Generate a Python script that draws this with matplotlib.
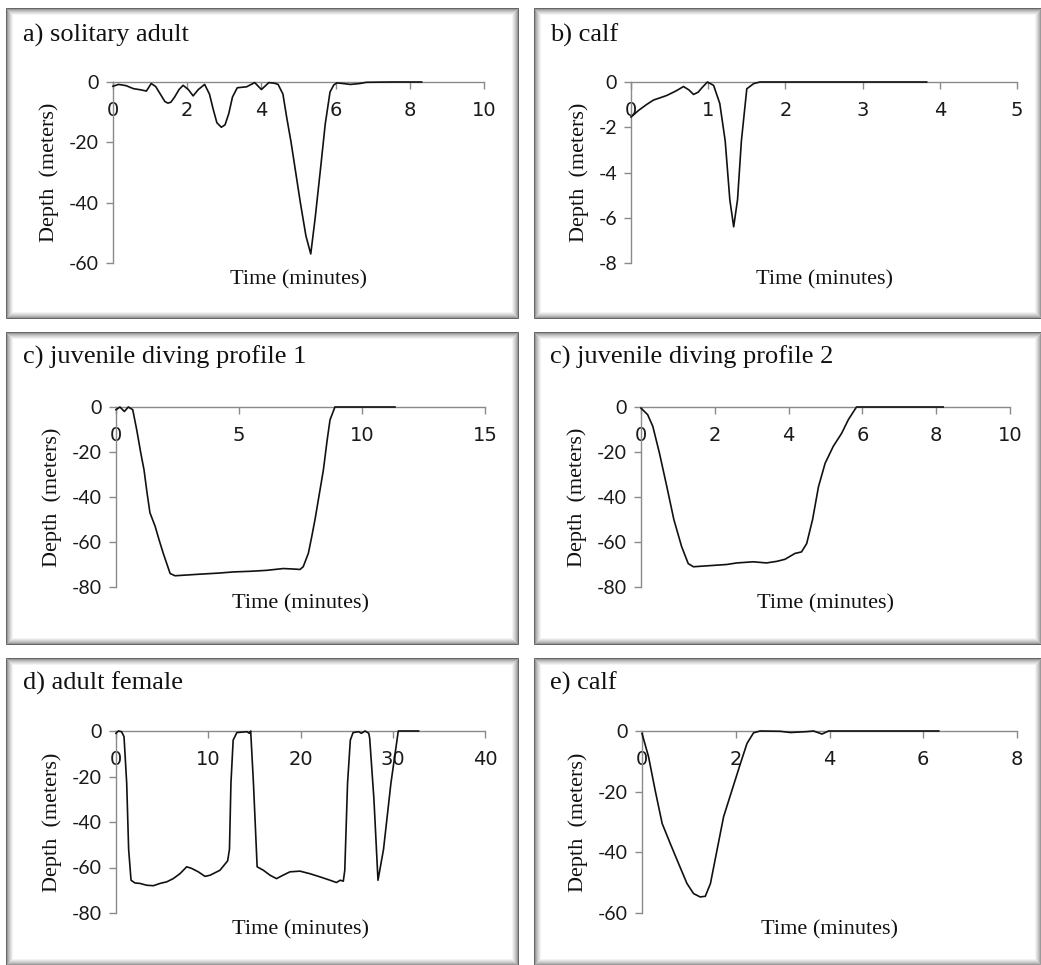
import matplotlib
matplotlib.use("Agg")
import matplotlib.pyplot as plt
from matplotlib.patches import Rectangle
import numpy as np

W, H = 1041, 965

# ---------------- data ----------------
titles = ["a) solitary adult", "b) calf", "c) juvenile diving profile 1",
          "c) juvenile diving profile 2", "d) adult female", "e) calf"]

a_t = [0, 0.15, 0.35, 0.55, 0.75, 0.9, 1.03, 1.15, 1.3, 1.4, 1.48, 1.56, 1.66, 1.78, 1.89, 2.03, 2.16,
       2.3, 2.47, 2.6, 2.7, 2.8, 2.92, 3.02, 3.12, 3.22, 3.35, 3.6, 3.82, 4.0, 4.2, 4.35, 4.45, 4.58,
       4.68, 4.8, 4.9, 5.05, 5.2, 5.33, 5.45, 5.6, 5.72, 5.85, 5.95, 6.03, 6.2, 6.4, 6.65,
       6.83, 7.5, 8.32]
a_d = [-1.4, -0.8, -1.2, -2.2, -2.6, -3.0, -0.5, -1.5, -4.5, -6.5, -7.0, -6.7, -5.0, -2.5, -1.1, -2.5, -4.6,
       -2.5, -0.8, -4.0, -9.0, -13.5, -15.0, -14.2, -10.5, -5.0, -1.9, -1.6, -0.2, -2.5, -0.2, -0.4, -0.8, -4.0,
       -11.6, -20.0, -28.0, -40.0, -51.0, -57.0, -45.0, -28.0, -14.0, -3.3, -1.0, -0.3, -0.5, -0.8, -0.5,
       -0.1, 0.0, 0.0]

b_t = [0, 0.1, 0.2, 0.29, 0.46, 0.58, 0.68, 0.75, 0.81, 0.87, 0.92, 0.99, 1.07, 1.15, 1.22,
       1.28, 1.33, 1.38, 1.43, 1.5, 1.59, 1.67, 2.5, 3.83]
b_d = [-1.55, -1.25, -1.0, -0.8, -0.6, -0.4, -0.2, -0.35, -0.55, -0.45, -0.25, 0.0, -0.15, -0.95, -2.6,
       -5.2, -6.4, -5.2, -2.6, -0.3, -0.07, 0.0, 0.0, 0.0]

c1_t = [0, 0.16, 0.34, 0.5, 0.68, 0.84, 1.0, 1.14, 1.26, 1.38, 1.59, 1.75, 1.92, 2.2, 2.4,
        3.41, 4.2, 4.77, 5.5, 6.12, 6.8, 7.2, 7.48, 7.61, 7.82, 7.95, 8.09, 8.26, 8.43, 8.58,
        8.7, 8.9, 10.0, 11.34]
c1_d = [-1.2, 0.0, -2.0, 0.0, -1.2, -10.0, -20.0, -28.0, -38.0, -47.0, -53.0, -59.0, -65.0, -74.0, -75.0,
        -74.3, -73.8, -73.3, -73.0, -72.6, -71.8, -72.0, -72.2, -71.0, -65.0, -58.0, -50.0, -39.0, -28.0, -15.0,
        -5.7, 0.0, 0.0, 0.0]

c2_t = [0, 0.18, 0.32, 0.5, 0.7, 0.89, 1.1, 1.28, 1.42, 1.78, 2.32, 2.6, 3.04, 3.4, 3.68,
        3.9, 4.17, 4.35, 4.49, 4.65, 4.81, 4.99, 5.21, 5.44, 5.62, 5.84, 7.0, 8.19]
c2_d = [-0.5, -3.4, -8.6, -20.5, -35.4, -50.0, -62.0, -69.6, -71.0, -70.6, -70.0, -69.3, -68.8, -69.3, -68.6,
        -67.7, -65.1, -64.4, -60.7, -50.0, -35.4, -25.0, -17.5, -11.6, -5.6, 0.0, 0.0, 0.0]

d_t = [0, 0.25, 0.6, 0.87, 1.16, 1.37, 1.63, 2.06, 2.6, 3.32, 4.05, 4.77, 5.5, 6.2, 6.94,
       7.66, 8.2, 8.92, 9.65, 10.2, 11.27, 12.1, 12.3, 12.46, 12.7, 13.1, 14.2, 14.45, 14.6, 14.9,
       15.3, 15.97, 16.7, 17.4, 18.1, 18.86, 19.94, 21.0, 22.1, 23.2, 23.9, 24.3, 24.64, 24.8, 25.1,
       25.4, 25.7, 26.3, 26.6, 27.0, 27.4, 27.5, 27.96, 28.4, 29.0, 29.8, 30.6, 32.8]
d_d = [-1.0, 0.0, -0.3, -2.5, -23.0, -52.0, -65.6, -66.8, -67.0, -67.8, -68.0, -67.0, -66.3, -64.9, -62.7,
       -59.7, -60.4, -61.9, -63.9, -63.4, -61.2, -57.1, -52.0, -23.0, -4.0, -0.7, -0.3, -1.0, 0.0, -23.0,
       -59.7, -61.2, -63.4, -64.9, -63.4, -61.9, -61.6, -62.7, -64.1, -65.6, -66.6, -65.6, -66.0, -61.2, -23.0,
       -4.0, -0.7, -0.3, -1.0, 0.0, -1.0, -3.2, -30.0, -65.6, -52.0, -23.0, 0.0, 0.0]

e_t = [0, 0.14, 0.28, 0.43, 0.6, 0.78, 0.96, 1.1, 1.24, 1.35, 1.46, 1.6, 1.74, 1.92, 2.1,
       2.24, 2.38, 2.52, 2.95, 3.17, 3.52, 3.66, 3.84, 3.98, 5.0, 6.33]
e_d = [-0.8, -8.5, -19.5, -30.5, -37.0, -43.7, -50.3, -53.6, -54.7, -54.5, -50.3, -39.3, -28.3, -19.5, -10.7,
       -4.1, -0.6, 0.0, -0.1, -0.5, -0.2, 0.0, -1.0, 0.0, 0.0, 0.0]

x_max = [10, 5, 15, 10, 40, 8]
x_step = [2, 1, 5, 2, 10, 2]
y_min = [-60, -8, -80, -80, -80, -60]
y_step = [20, 2, 20, 20, 20, 20]

series = [(a_t, a_d), (b_t, b_d), (c1_t, c1_d), (c2_t, c2_d), (d_t, d_d), (e_t, e_d)]

# ---------------- layout (pixels) ----------------
frames = [(6, 8, 518, 318), (534, 8, 1041, 318),
          (6, 332, 518, 644), (534, 332, 1041, 644),
          (6, 658, 518, 965), (534, 658, 1041, 965)]
axes_px = [(113, 82, 484, 263), (631, 82, 1017, 263),
           (116, 407, 485, 587), (641, 407, 1010, 587),
           (116, 731, 485, 913), (642, 731, 1017, 913)]
title_px = [(23, 42), (550, 42), (23, 364), (550, 364), (23, 690), (550, 690)]

fig = plt.figure(figsize=(W / 100, H / 100), dpi=100)
fig.patch.set_facecolor("white")

serif = "Liberation Serif"
sans = "Lato"
axis_col = "#8a8a8a"

# frames with inner shadow
for (x0, y0, x1, y1) in frames:
    n = 8
    for i in range(n):
        g = 0.40 + 0.60 * (i / (n - 1)) ** 0.55
        last = (i == n - 1)
        rect = Rectangle((x0 + i, H - y1 + i), (x1 - x0) - 2 * i, (y1 - y0) - 2 * i,
                         transform=None, facecolor="white" if last else "none",
                         edgecolor=(g, g, g), linewidth=0.72, zorder=-5)
        fig.patches.append(rect)

for k, ((x0, y0, x1, y1), (t, d)) in enumerate(zip(axes_px, series)):
    ax = fig.add_axes([x0 / W, 1 - y1 / H, (x1 - x0) / W, (y1 - y0) / H])
    ax.set_zorder(2)
    ax.set_facecolor("none")
    ax.plot(t, d, color="#111111", lw=1.2, clip_on=False, zorder=5)
    ax.set_xlim(0, x_max[k])
    ax.set_ylim(y_min[k], 0)
    xt = np.arange(0, x_max[k] + 0.001, x_step[k])
    yt = np.arange(y_min[k], 0.001, y_step[k])
    ax.set_xticks(xt)
    ax.set_yticks(yt)
    ax.set_xticklabels([f"{int(round(v))}" for v in xt], family=sans)
    ax.set_yticklabels([f"{int(round(v))}" for v in yt], family=sans)
    ax.spines["top"].set_visible(False)
    ax.spines["right"].set_visible(False)
    ax.spines["bottom"].set_position(("data", 0))
    for s in ("left", "bottom"):
        ax.spines[s].set_color(axis_col)
        ax.spines[s].set_linewidth(1.0)
    ax.tick_params(axis="x", direction="out", length=5, width=1.0, color=axis_col,
                   pad=9, labelsize=14, labelcolor="#1a1a1a")
    ax.tick_params(axis="y", direction="out", length=5, width=1.0, color=axis_col,
                   pad=5, labelsize=14, labelcolor="#1a1a1a")
    ax.set_ylabel("Depth  (meters)", family=serif, fontsize=16, labelpad=7, color="#111111")
    ax.text(0.5, -0.095, "Time (minutes)", transform=ax.transAxes, ha="center", va="center",
            family=serif, fontsize=16, color="#111111")
    tx, ty = title_px[k]
    fig.text(tx / W, 1 - ty / H, titles[k], family=serif, fontsize=19, color="#111111",
             ha="left", va="baseline")

fig.savefig("out.png", dpi=100, facecolor="white")
